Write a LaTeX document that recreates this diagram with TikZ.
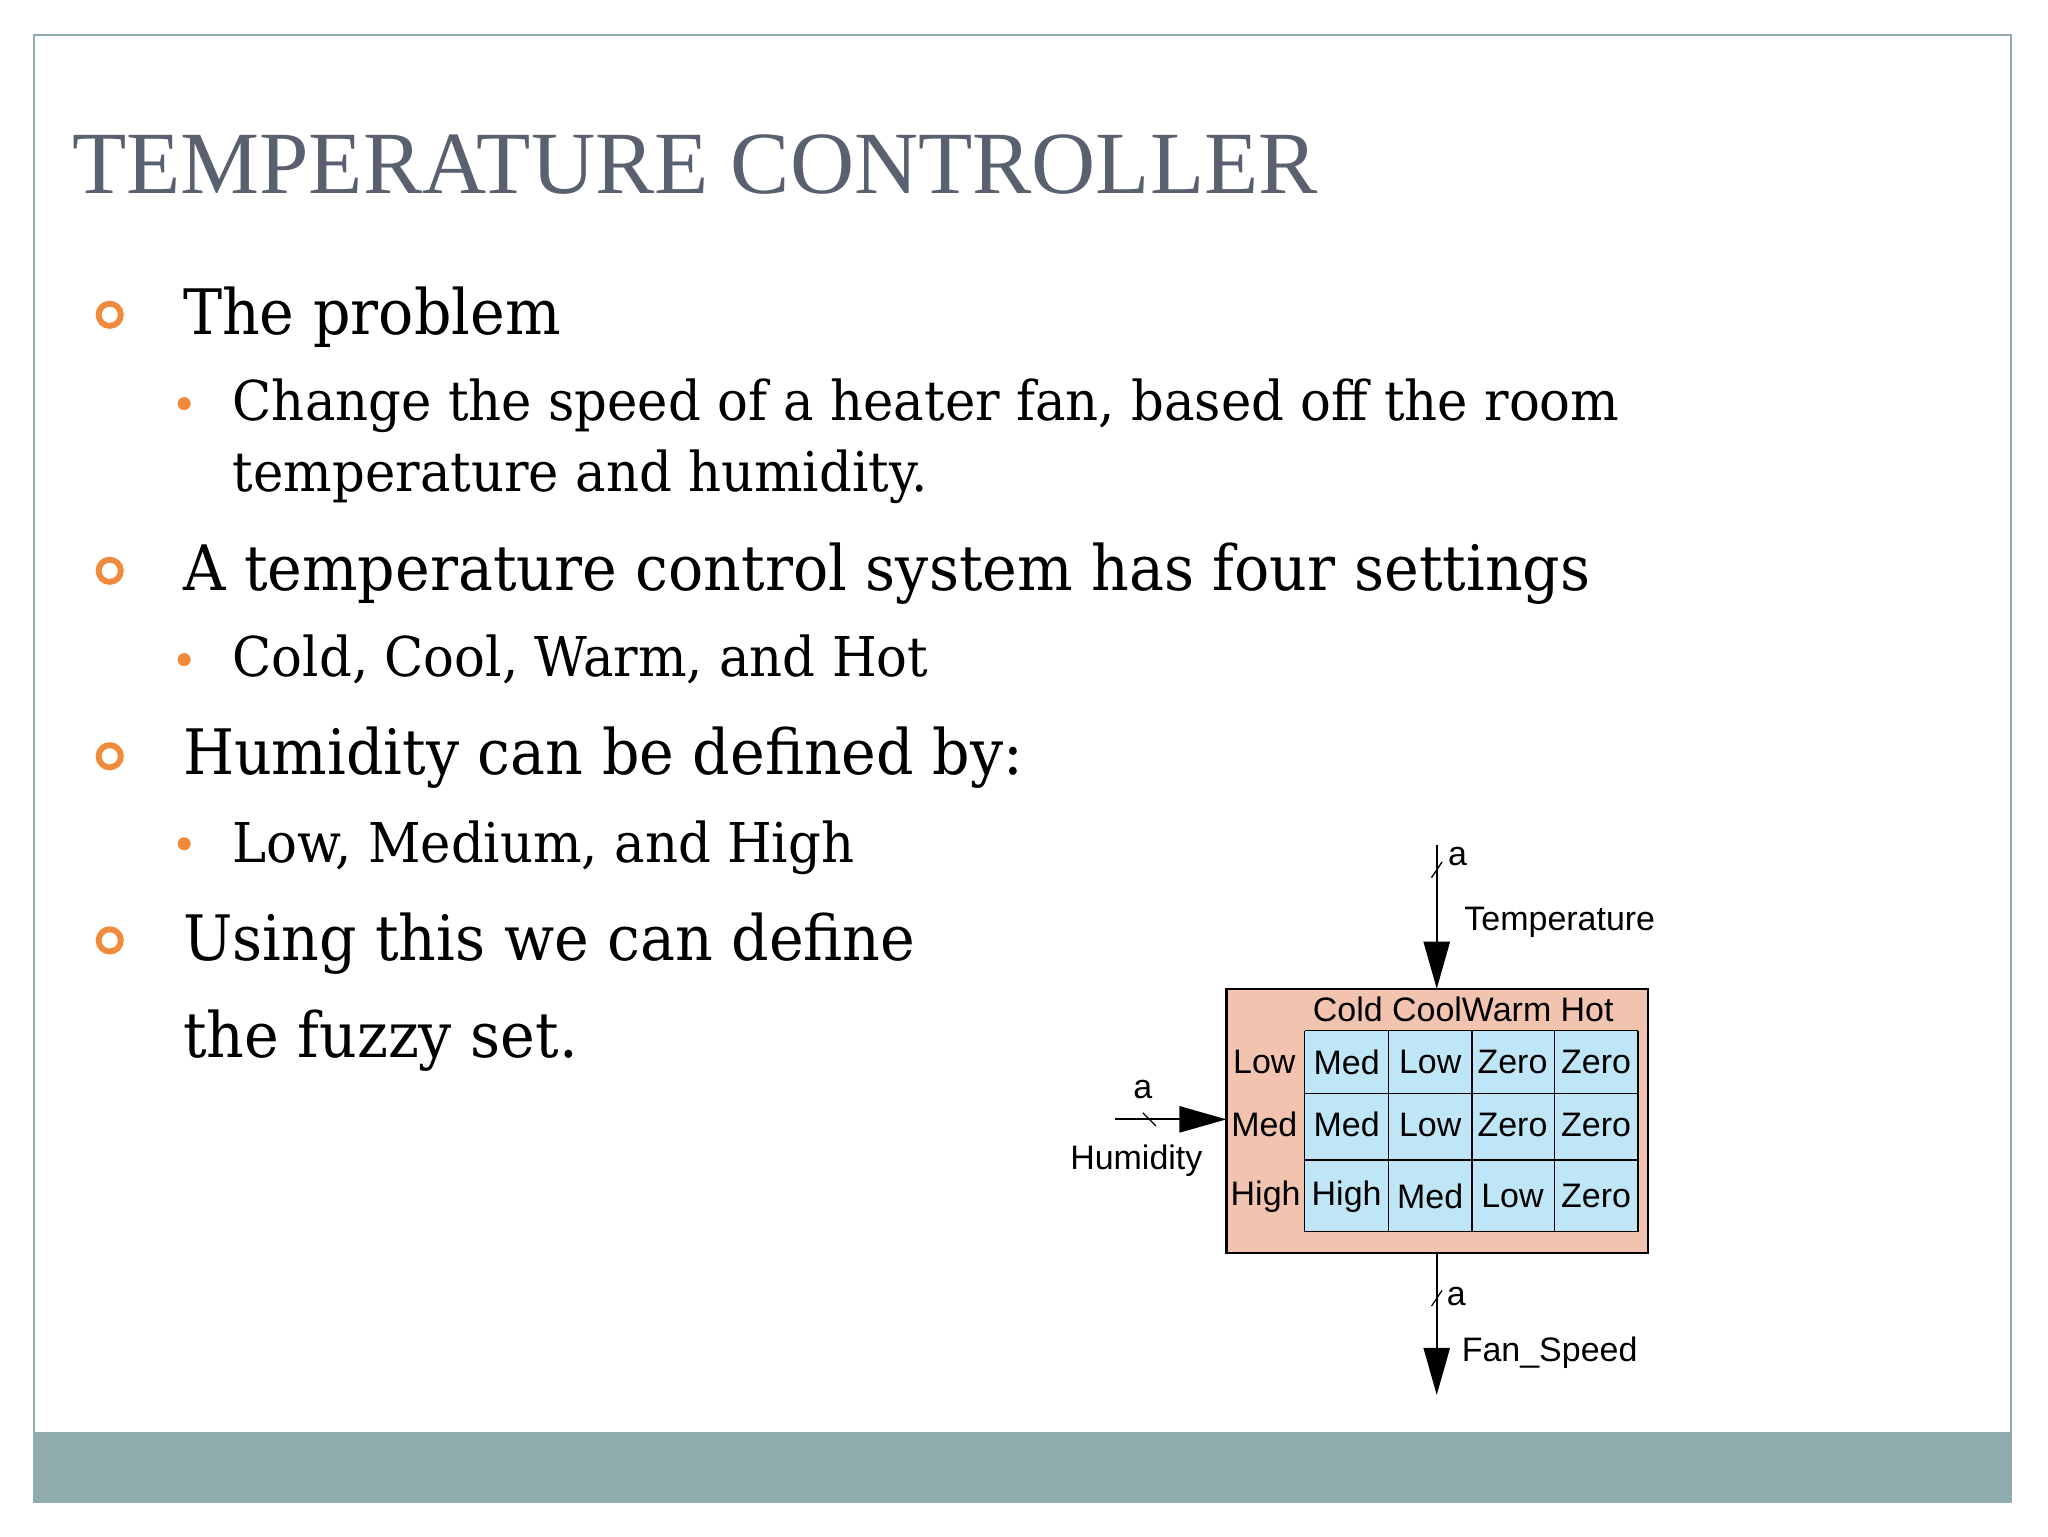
\documentclass[tikz,border=0pt]{standalone}
\usepackage{fontspec}
\setmainfont[FakeStretch=0.935]{DejaVu Serif}
\newfontfamily\titlefont{Liberation Serif}
\setsansfont{Liberation Sans}
\usetikzlibrary{arrows.meta}
\definecolor{titlegray}{HTML}{596170}
\definecolor{frame}{HTML}{8FABAD}
\definecolor{orng}{HTML}{F08A3C}
\definecolor{salmon}{HTML}{F2C4B0}
\definecolor{cellblue}{HTML}{BEE6F6}
\begin{document}
\begin{tikzpicture}[x=1pt,y=-1pt,
  lvlone/.style={anchor=base west,inner sep=0pt,font=\fontsize{48}{60}\selectfont},
  lvltwo/.style={anchor=base west,inner sep=0pt,font=\fontsize{42}{53}\selectfont},
  ring/.style={circle,draw=orng,line width=4.5pt,minimum size=17pt,inner sep=0pt},
  dot/.style={circle,fill=orng,minimum size=10pt,inner sep=0pt},
  dlab/.style={font=\sffamily\fontsize{26}{30}\selectfont,inner sep=0pt},
  cell/.style={dlab,anchor=center},
  bigarrow/.style={line width=1.6pt,-{Triangle[length=36pt,width=20pt]}},
  tick/.style={line width=1pt}]
\useasboundingbox (0,0) rectangle (1568,1176);
\fill[white] (0,0) rectangle (1568,1176);
\fill[frame] (26,1096) rectangle (1540,1150);
\draw[frame,line width=1.5pt] (26,27) rectangle (1540,1150);
\node[anchor=base west,inner sep=0pt,text=titlegray,font=\titlefont\fontsize{68}{80}\selectfont] (title) at (55,148) {TEMPERATURE CONTROLLER};
% bullets
\node[ring] (b1) at (84,241) {};
\node[lvlone] (t1) at (140,256) {The problem};
\node[dot] (s1) at (141,309) {};
\node[lvltwo] (t11) at (178,322) {Change the speed of a heater fan, based off the room};
\node[lvltwo] (t12) at (178,376) {temperature and humidity.};
\node[ring] (b2) at (84,437) {};
\node[lvlone] (t2) at (140,452) {A temperature control system has four settings};
\node[dot] (s2) at (141,505) {};
\node[lvltwo] (t21) at (178,518) {Cold, Cool, Warm, and Hot};
\node[ring] (b3) at (84,579) {};
\node[lvlone] (t3) at (140,593) {Humidity can be defined by:};
\node[dot] (s3) at (141,646) {};
\node[lvltwo] (t31) at (178,660) {Low, Medium, and High};
\node[ring] (b4) at (84,720) {};
\node[lvlone] (t4) at (140,735) {Using this we can define};
\node[lvlone] (t5) at (140,810) {the fuzzy set.};
% diagram
\draw[fill=salmon,line width=1.6pt] (939,757) rectangle (1262,959);
\coordinate (boxtop) at (1100,757);
\coordinate (boxbot) at (1100,959);
\coordinate (boxleft) at (939,857);
\fill[cellblue] (999,789) rectangle (1254,943);
\foreach \x in {999,1063,1127,1190,1254} \draw[line width=1pt] (\x,789) -- (\x,943);
\foreach \y in {789,837,888,943} \draw[line width=1pt] (999,\y) -- (1254,\y);
\node[dlab,anchor=west] (hdr) at (1005,773) {Cold CoolWarm Hot};
\node[cell] (rl1) at (968,813) {Low};
\node[cell] (rl2) at (968,861) {Med};
\node[cell] (rl3) at (969,916) {High};
\node[cell] at (1031,813) {Med};  \node[cell] at (1095,813) {Low};  \node[cell] at (1158,813) {Zero}; \node[cell] at (1222,813) {Zero};
\node[cell] at (1031,861) {Med};  \node[cell] at (1095,861) {Low};  \node[cell] at (1158,861) {Zero}; \node[cell] at (1222,861) {Zero};
\node[cell] at (1031,916) {High}; \node[cell] at (1095,916) {Med};  \node[cell] at (1158,916) {Low};  \node[cell] at (1222,916) {Zero};
% temperature input
\coordinate (tstart) at (1100,647);
\draw[bigarrow] (tstart) -- (boxtop);
\draw[tick] (1096,672) -- (1104,660);
\node[dlab] (ta) at (1116,656) {a};
\node[dlab,anchor=west] (tl) at (1121,706) {Temperature};
% humidity input
\coordinate (hstart) at (854,857);
\draw[bigarrow] (hstart) -- (boxleft);
\draw[tick] (875,852) -- (885,862);
\node[dlab] (ha) at (875,834) {a};
\node[dlab] (hl) at (870,889) {Humidity};
% fan speed output
\coordinate (fend) at (1100,1068);
\draw[bigarrow] (boxbot) -- (fend);
\draw[tick] (1096,1000) -- (1104,988);
\node[dlab] (fa) at (1115,993) {a};
\node[dlab,anchor=west] (fl) at (1119,1036) {Fan\_Speed};
\end{tikzpicture}
\end{document}
